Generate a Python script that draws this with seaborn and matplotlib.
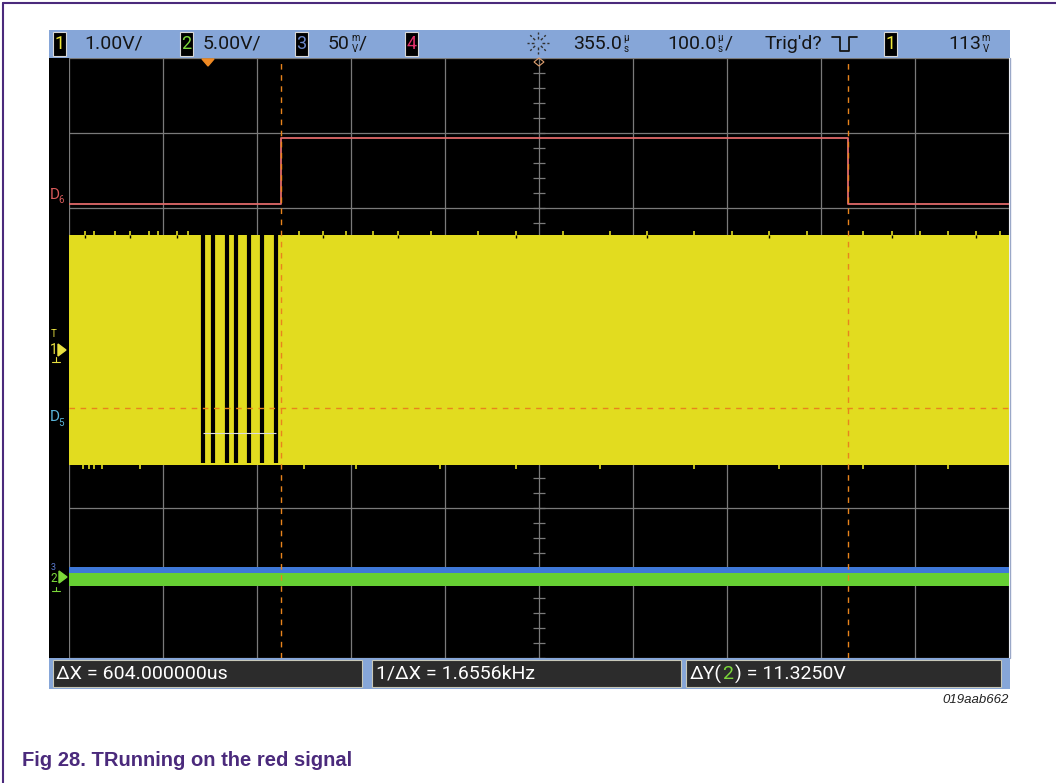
import matplotlib
matplotlib.use("Agg")
import matplotlib.pyplot as plt
import numpy as np
import pandas as pd
import seaborn as sns
from matplotlib import font_manager
from matplotlib.lines import Line2D
from matplotlib.patches import Rectangle, Polygon

# --- data ---------------------------------------------------------------
# time axis in microseconds (100 us/div, centre 355 us), vertical axis in divisions
t_left, t_right = -145.0, 855.0
cursor_t = [80.0, 684.0]

red_t = [-145, 80, 80, 684, 684, 855]
red_v = [2.05, 2.05, 2.93, 2.93, 2.05, 2.05]

yellow_top, yellow_bottom = 1.64, -1.43
burst_t = [-2, 8, 23, 33, 47, 60, 75]
spike_top_t = [-128, -118, -96, -80, -60, -50, -30, -18, 100, 125, 150, 178, 205, 240,
               290, 330, 380, 430, 470, 520, 560, 600, 640, 700, 730, 760, 790, 820, 845]
spike_bot_t = [-130, -124, -118, -110, -70, 105, 160, 250, 330, 420, 520, 610, 700, 790]
cursor_level = -0.67

blue_band = [-2.87, -2.79]
green_band = [-3.04, -2.87]

top_labels = ["1.00V/", "5.00V/", "50", "355.0", "100.0", "Trig'd?", "113"]
meas_labels = ["\u0394X = 604.000000us", "1/\u0394X = 1.6556kHz", "\u0394Y(", "2", ") = 11.3250V"]
fig_id = "019aab662"
caption = "Fig 28. TRunning on the red signal"

# --- style -------------------------------------------------------------
sns.set_theme(style="dark")
names = {f.name for f in font_manager.fontManager.ttflist}
scope_font = "Liberation Sans Narrow" if "Liberation Sans Narrow" in names else "Roboto"
plt.rcParams["font.family"] = ["Liberation Sans", "DejaVu Sans"]

W, H = 1056, 783
BAR_BLUE = "#86a6d8"
PURPLE = "#4b2a7c"
INK = "#151515"


def fx(x):
    return x / W


def fy(y):
    return 1 - y / H


fig = plt.figure(figsize=(W / 100, H / 100), dpi=100)
fig.patch.set_facecolor("white")


def frect(x0, y0, x1, y1, **kw):
    fig.add_artist(Rectangle((fx(x0), fy(y1)), (x1 - x0) / W, (y1 - y0) / H,
                             transform=fig.transFigure, zorder=-5, **kw))


def fline(xs, ys, **kw):
    fig.add_artist(Line2D([fx(x) for x in xs], [fy(y) for y in ys],
                          transform=fig.transFigure, **kw))


# document frame
fline([3, 1056], [3, 3], color=PURPLE, lw=1.5)
fline([3, 3], [3, 783], color=PURPLE, lw=1.5)

# scope body
frect(49, 30, 1010, 58, color=BAR_BLUE, lw=0)
frect(49, 58, 1009, 658, color="black", lw=0)
frect(49, 658, 1010, 689, color=BAR_BLUE, lw=0)
fline([1009.5, 1009.5], [58, 658], color="#9aa8c8", lw=1)

ax = fig.add_axes([fx(69), fy(658), 940 / W, 600 / H])
ax.set_facecolor("black")
ax.set_xlim(t_left, t_right)
ax.set_ylim(-4, 4)
ax.set_xticks([])
ax.set_yticks([])
for s in ax.spines.values():
    s.set_visible(False)

# graticule
grid_c = "#7a7a7a"
for gx in np.arange(t_left, t_right + 1, 100):
    ax.axvline(gx, color=grid_c, lw=0.9, zorder=1)
for gy in range(-4, 5):
    ax.axhline(gy, color=grid_c, lw=0.9, zorder=1)
mid_t = (t_left + t_right) / 2
ax.vlines(np.arange(t_left, t_right + 1, 20), -0.06, 0.06, color=grid_c, lw=0.9, zorder=1)
ax.hlines(np.arange(-4, 4.01, 0.2), mid_t - 6, mid_t + 6, color=grid_c, lw=0.9, zorder=1)

# channel 1 (yellow burst-modulated signal)
YEL = "#e2dc1f"
ax.fill_between([t_left, t_right], yellow_bottom, yellow_top, color=YEL, lw=0, zorder=2)
ax.vlines(spike_top_t, yellow_top, yellow_top + 0.06, color=YEL, lw=1.2, zorder=2)
ax.vlines(spike_top_t[::3], yellow_top - 0.04, yellow_top, color="black", lw=1.0, zorder=2)
ax.vlines(spike_bot_t, yellow_bottom - 0.05, yellow_bottom, color=YEL, lw=1.2, zorder=2)
ax.vlines(burst_t, yellow_bottom + 0.03, yellow_top + 0.04, color="black", lw=3.0, zorder=3)
ax.hlines(-1.0, min(burst_t), max(burst_t), color="#dddddd", lw=0.8, zorder=3)

# channel 2 / 3 noise band
ax.fill_between([t_left, t_right], blue_band[0], blue_band[1], color="#3f78d8", lw=0, zorder=2)
ax.fill_between([t_left, t_right], green_band[0], green_band[1], color="#66cf33", lw=0, zorder=2)

# digital D6 (red)
red_df = pd.DataFrame({"t": red_t, "v": red_v})
sns.lineplot(data=red_df, x="t", y="v", sort=False, estimator=None, errorbar=None,
             color="#e06a6a", lw=1.3, ax=ax, zorder=4)

# cursors
for ct in cursor_t:
    ax.axvline(ct, color="#e8841c", lw=1.0, ls=(0, (4, 4)), zorder=5)
ax.axhline(cursor_level, color="#e8841c", lw=1.0, ls=(0, (4, 4)), zorder=5)
ax.set_xlabel("")
ax.set_ylabel("")

fig.canvas.draw()
renderer = fig.canvas.get_renderer()


def right_px(t):
    return t.get_window_extent(renderer).x1


# --- top status bar -----------------------------------------------------
def chan_box(x, num, colour):
    fig.add_artist(Rectangle((fx(x), fy(56)), 13 / W, 24 / H, transform=fig.transFigure,
                             facecolor="black", edgecolor="#d8d8d8", lw=0.8))
    fig.text(fx(x + 6.5), fy(44), num, color=colour, ha="center", va="center",
             fontsize=13, family=scope_font)


txt_kw = dict(color=INK, va="center", fontsize=14, family=scope_font)


def value_with_unit(x, value, top, bottom, slash=False):
    t = fig.text(fx(x), fy(44), value, **txt_kw)
    xr = right_px(t) + 1
    fig.text(xr / W, fy(38), top, fontsize=7, ha="left", va="center", color=INK, family=scope_font)
    fig.text(xr / W + 0.0005, fy(49), bottom, fontsize=7, ha="left", va="center", color=INK,
             family=scope_font)
    if slash:
        fig.text((xr + 8) / W, fy(44), "/", **txt_kw)


chan_box(53, "1", "#f0e838")
fig.text(fx(84), fy(44), top_labels[0], **txt_kw)
chan_box(180, "2", "#7cd83a")
fig.text(fx(203), fy(44), top_labels[1], **txt_kw)
chan_box(295, "3", "#6a86c8")
value_with_unit(328, top_labels[2], "m", "V", slash=True)
chan_box(405, "4", "#e0306a")

# trigger "sun" icon
cx, cy = 538, 43
for ang in np.deg2rad(np.arange(0, 360, 45)):
    fline([cx + 4 * np.cos(ang), cx + 11 * np.cos(ang)],
          [cy + 4 * np.sin(ang), cy + 11 * np.sin(ang)], color="#303030", lw=1.0, ls=(0, (2, 1.5)))

value_with_unit(573, top_labels[3], "\u00b5", "s")
value_with_unit(667, top_labels[4], "\u00b5", "s", slash=True)
fig.text(fx(765), fy(44), top_labels[5], **txt_kw)
fline([832, 840, 840, 849, 849, 857], [37, 37, 51, 51, 37, 37], color=INK, lw=1.3)
chan_box(884, "1", "#f0e838")
value_with_unit(948, top_labels[6], "m", "V")

# markers at the top edge of the screen
fig.add_artist(Polygon([[fx(202), fy(59)], [fx(214), fy(59)], [fx(208), fy(66)]],
                       closed=True, transform=fig.transFigure, color="#f08a24"))
fig.add_artist(Polygon([[fx(534), fy(62)], [fx(539), fy(58)], [fx(544), fy(62)], [fx(539), fy(66)]],
                       closed=True, transform=fig.transFigure, fill=False, edgecolor="#e0a070", lw=0.8))

# left-side channel markers
fig.text(fx(50), fy(195), "D", color="#d85a5a", fontsize=11, va="center", family=scope_font)
fig.text(fx(58), fy(200), "6", color="#d85a5a", fontsize=7, va="center", family=scope_font)
fig.text(fx(51), fy(334), "T", color="#e8e040", fontsize=7, va="center", family=scope_font)
fig.text(fx(50), fy(350), "1", color="#e8e040", fontsize=10, va="center", family=scope_font)
fig.add_artist(Polygon([[fx(58), fy(344)], [fx(58), fy(356)], [fx(66), fy(350)]],
                       closed=True, transform=fig.transFigure, color="#e8e040"))
fline([56, 56], [357, 362], color="#e8e040", lw=0.8)
fline([52, 60], [362, 362], color="#e8e040", lw=0.8)
fig.text(fx(50), fy(417), "D", color="#5ab4d8", fontsize=11, va="center", family=scope_font)
fig.text(fx(58), fy(423), "5", color="#5ab4d8", fontsize=7, va="center", family=scope_font)
fig.text(fx(51), fy(568), "3", color="#5a7ad0", fontsize=6.5, va="center", family=scope_font)
fig.text(fx(50), fy(579), "2", color="#7cd83a", fontsize=8.5, va="center", family=scope_font)
fig.add_artist(Polygon([[fx(59), fy(571)], [fx(59), fy(583)], [fx(67), fy(577)]],
                       closed=True, transform=fig.transFigure, color="#7cd83a"))
fline([56, 56], [587, 591], color="#7cd83a", lw=0.8)
fline([52, 60], [591, 591], color="#7cd83a", lw=0.8)

# --- measurement bar -----------------------------------------------------
meas_kw = dict(color="white", va="center", fontsize=14, family=scope_font)
for x0, x1 in [(53, 362), (372, 681), (686, 1001)]:
    fig.add_artist(Rectangle((fx(x0), fy(687)), (x1 - x0) / W, 27 / H, transform=fig.transFigure,
                             facecolor="#2c2c2c", edgecolor="#c8c8b8", lw=0.8))
fig.text(fx(56), fy(674), meas_labels[0], **meas_kw)
fig.text(fx(376), fy(674), meas_labels[1], **meas_kw)
t1 = fig.text(fx(690), fy(674), meas_labels[2], **meas_kw)
t2 = fig.text(right_px(t1) / W, fy(674), meas_labels[3], color="#7cd83a", va="center",
              fontsize=14, family=scope_font)
fig.text((right_px(t2) + 2) / W, fy(674), meas_labels[4], **meas_kw)

fig.text(fx(1009), fy(700), fig_id, ha="right", va="center", fontsize=9.5, style="italic",
         color="#222222")
fig.text(fx(22), fy(760), caption, ha="left", va="center", fontsize=14.5, weight="bold",
         color=PURPLE)

fig.savefig("out.png", dpi=100)
